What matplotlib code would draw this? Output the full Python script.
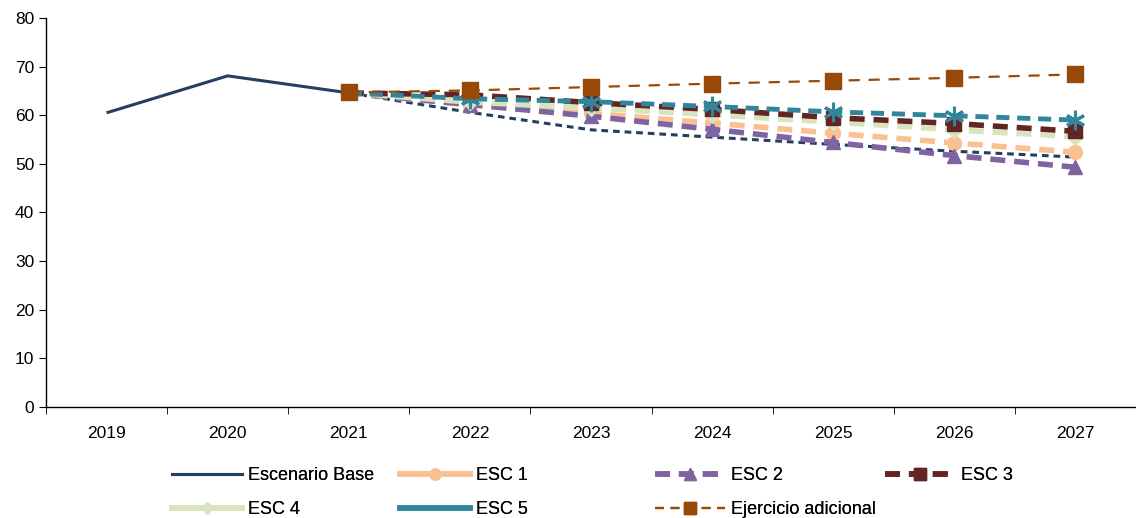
import matplotlib
matplotlib.use("Agg")
import matplotlib.pyplot as plt
from matplotlib.lines import Line2D
import numpy as np

plt.rcParams['font.family'] = ['Liberation Sans', 'DejaVu Sans']

years = ["2019", "2020", "2021", "2022", "2023", "2024", "2025", "2026", "2027"]
base_hist = [60.5, 68.1, 64.6]
base_proj = [64.6, 60.6, 57.0, 55.5, 54.0, 52.6, 51.4]
esc1 = [64.6, 62.1, 60.4, 58.4, 56.3, 54.3, 52.4]
esc2 = [64.6, 62.2, 59.8, 57.1, 54.4, 51.7, 49.3]
esc3 = [64.6, 64.2, 62.6, 61.2, 59.5, 58.3, 56.7]
esc4 = [64.6, 62.7, 61.5, 60.1, 58.6, 57.0, 55.6]
esc5 = [64.6, 63.4, 62.8, 61.8, 60.7, 59.9, 59.0]
ejercicio = [64.7, 65.1, 65.8, 66.5, 67.1, 67.7, 68.4]

c_base = "#243F60"
c_esc1 = "#FAC090"
c_esc2 = "#8064A2"
c_esc3 = "#632523"
c_esc4 = "#D7E4BD"
c_esc5 = "#31859C"
c_ej = "#984807"

fig = plt.figure(figsize=(11.36, 5.18), dpi=100)
ax = fig.add_axes([46/1136, 111/518, 1090/1136, 389/518])

x = np.arange(len(years))
xp = x[2:]
me = list(range(1, 7))
dash = (0, (2.7, 1.6))

ax.plot(x[:3], base_hist, color=c_base, lw=2.2, solid_capstyle='butt')
ax.plot(xp, base_proj, color=c_base, lw=2.2, ls=(0, (2.2, 1.6)))
ax.plot(xp, esc1, color=c_esc1, lw=4, ls=dash, marker='o', ms=10, markevery=me)
ax.plot(xp, esc2, color=c_esc2, lw=4, ls=dash, marker='^', ms=10, markevery=me)
ax.plot(xp, esc4, color=c_esc4, lw=4, ls=dash, marker='D', ms=8, markevery=me)
ax.plot(xp, esc3, color=c_esc3, lw=4, ls=dash, marker='s', ms=10, markevery=me)
ax.plot(xp, esc5, color=c_esc5, lw=3.5, ls=dash, marker=(6, 2, 0), ms=14, mew=2.2, markevery=me)
ax.plot(xp, ejercicio, color=c_ej, lw=1.6, ls=(0, (5, 4)), marker='s', ms=11)

ax.set_xlim(-0.5, 8.46)
ax.set_ylim(0, 80)
ax.set_yticks(range(0, 81, 10))
ax.set_xticks(x)
ax.set_xticklabels(years)
ax.set_xticks(np.arange(-0.5, 9, 1), minor=True)
ax.tick_params(axis='x', which='major', length=0, pad=14, labelsize=12.5)
ax.tick_params(axis='x', which='minor', length=5, direction='out', color='#000000')
ax.tick_params(axis='y', length=5, direction='out', labelsize=12.5)
for s in ['top', 'right']:
    ax.spines[s].set_visible(False)
for s in ['left', 'bottom']:
    ax.spines[s].set_color('#000000')
    ax.spines[s].set_linewidth(1)

h_base = Line2D([], [], color=c_base, lw=2.2)
h1 = Line2D([], [], color=c_esc1, lw=4, marker='o', ms=8)
h2 = Line2D([], [], color=c_esc2, lw=4, ls=dash, marker='^', ms=9)
h3 = Line2D([], [], color=c_esc3, lw=4, ls=dash, marker='s', ms=9)
h4 = Line2D([], [], color=c_esc4, lw=4, marker='D', ms=6)
h5 = Line2D([], [], color=c_esc5, lw=4)
h_ej = Line2D([], [], color=c_ej, lw=1.6, ls=(0, (4, 3)), marker='s', ms=9)

cols = [
    ([h_base, h4], ["Escenario Base", "ESC 4"], 172),
    ([h1, h5], ["ESC 1", "ESC 5"], 400),
    ([h2, h_ej], ["ESC 2", "Ejercicio adicional"], 655),
    ([h3], ["ESC 3"], 885),
]
fs = 13
for hs, ls_, xpx in cols:
    leg = fig.legend(hs, ls_, loc='upper left', bbox_to_anchor=(xpx/1136, 1 - 467/518),
                     frameon=False, fontsize=fs, handlelength=70/(fs*100/72),
                     handletextpad=0.35, borderpad=0, borderaxespad=0, labelspacing=0.95)
    fig.add_artist(leg)

fig.savefig("out.png", dpi=100)
